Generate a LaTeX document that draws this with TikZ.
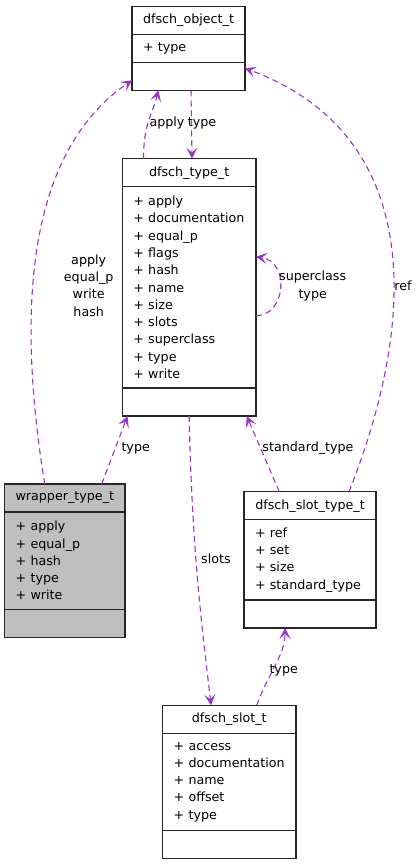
\documentclass[tikz,border=0pt]{standalone}
\usepackage{fontspec}
\setmainfont{DejaVu Sans}
\usepackage{tikz}
\usetikzlibrary{arrows.meta}
\usetikzlibrary{positioning}
\definecolor{edgepurple}{RGB}{154,50,205}
\definecolor{wrapgray}{RGB}{191,191,191}
\tikzset{
    classhead/.style={draw=black!85, line width=1.2pt, fill=white, inner sep=0pt, outer sep=0pt,
        minimum height=28pt, minimum width=#1, anchor=north, align=center},
    classbody/.style={draw=black!85, line width=1.2pt, fill=white, inner xsep=11pt, inner ysep=0pt,
        outer sep=0pt, text width=#1, align=left},
    classops/.style={draw=black!85, line width=1.2pt, fill=white, inner sep=0pt, outer sep=0pt,
        minimum width=#1, minimum height=28pt},
    shaded/.style={fill=wrapgray},
    uses/.style={draw=edgepurple, line width=1.1pt, dash pattern=on 6pt off 4pt,
        -{Stealth[length=11pt,width=11pt,inset=5pt]}},
    edgelabel/.style={inner sep=0pt, align=center},
}

\begin{document}
\begin{tikzpicture}[x=1pt, y=-1pt, font=\fontsize{12.7}{17.3}\selectfont]
    \useasboundingbox (0,0) rectangle (416,864);

    % classes
    \node[classhead=113pt] (objhead) at (188.5,6.3) {dfsch\_object\_t};
    \node[classbody=91pt, minimum height=28pt, below=0pt of objhead] (objattr) {+ type};
    \node[classops=113pt, below=0pt of objattr] (objops) {};

    \node[classhead=133.7pt] (typehead) at (189.2,158.7) {dfsch\_type\_t};
    \node[classbody=111.7pt, minimum height=201.3pt, below=0pt of typehead] (typeattr)
        {+ apply\\+ documentation\\+ equal\_p\\+ flags\\+ hash\\+ name\\+ size\\+ slots\\+ superclass\\+ type\\+ write};
    \node[classops=133.7pt, below=0pt of typeattr] (typeops) {};

    \node[classhead=120.3pt, shaded] (wraphead) at (64.8,484) {wrapper\_type\_t};
    \node[classbody=98.3pt, shaded, minimum height=97.3pt, below=0pt of wraphead] (wrapattr)
        {+ apply\\+ equal\_p\\+ hash\\+ type\\+ write};
    \node[classops=120.3pt, shaded, below=0pt of wrapattr] (wrapops) {};

    \node[classhead=132pt] (sltyhead) at (310,491.7) {dfsch\_slot\_type\_t};
    \node[classbody=110pt, minimum height=80.3pt, below=0pt of sltyhead] (sltyattr)
        {+ ref\\+ set\\+ size\\+ standard\_type};
    \node[classops=132pt, below=0pt of sltyattr] (sltyops) {};

    \node[classhead=133.3pt] (slothead) at (229.3,705.3) {dfsch\_slot\_t};
    \node[classbody=111.3pt, minimum height=97.3pt, below=0pt of slothead] (slotattr)
        {+ access\\+ documentation\\+ name\\+ offset\\+ type};
    \node[classops=133.3pt, below=0pt of slotattr] (slotops) {};

    % edges
    \draw[uses] ([xshift=-45.7pt]typehead.north) .. controls +(0,-35) and +(-6,25) .. ([xshift=-30.2pt]objops.south);
    \draw[uses] ([xshift=2.5pt]objops.south) -- ([xshift=2.8pt]typehead.north);
    \draw[uses] ([xshift=-20.1pt]wraphead.north) .. controls +(-29.7,-184) and +(-102,70) .. ([yshift=-4pt]objops.west);
    \draw[uses] ([xshift=39pt]sltyhead.north) .. controls +(76,-191.7) and +(168,62) .. ([yshift=8pt]objops.east);
    \draw[uses] ([xshift=36.9pt]wraphead.north) -- ([xshift=-61.7pt]typeops.south);
    \draw[uses] ([xshift=-30.7pt]sltyhead.north) -- ([xshift=57.5pt]typeops.south);
    \draw[uses] (typeops.south) .. controls +(2.7,144) and +(-6,-55) .. ([xshift=-18.3pt]slothead.north);
    \draw[uses] ([xshift=27.4pt]slothead.north) .. controls +(13,-35) and +(0,27) .. ([xshift=-25pt]sltyops.south);
    \draw[uses] ([yshift=-28.3pt]typeattr.east) .. controls +(30,0) and +(34,5) .. ([yshift=30.6pt]typeattr.east);

    % edge labels
    \node[edgelabel] (lblapply) at (167,123) {apply};
    \node[edgelabel] (lbltype) at (202,123) {type};
    \node[edgelabel] (lblwrap) at (88.7,285.5) {apply\\equal\_p\\write\\hash};
    \node[edgelabel] (lblwraptype) at (135.7,448) {type};
    \node[edgelabel] (lblstd) at (308,448) {standard\_type};
    \node[edgelabel] (lblslots) at (216,558.3) {slots};
    \node[edgelabel] (lblsuper) at (312.7,286) {superclass\\type};
    \node[edgelabel] (lblref) at (403,286) {ref};
    \node[edgelabel] (lblslottype) at (283.7,670) {type};
\end{tikzpicture}
\end{document}
